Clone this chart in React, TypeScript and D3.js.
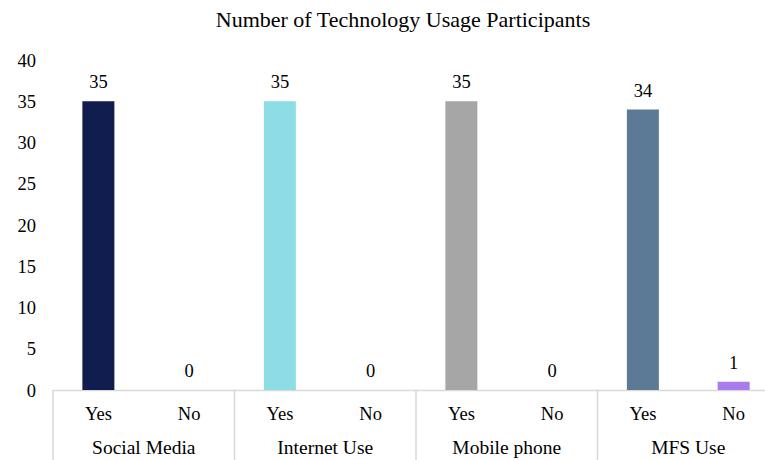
import React from "react";
import * as d3 from "d3";

const groups = ["Social Media", "Internet Use", "Mobile phone", "MFS Use"];
const subs = ["Yes", "No"];
const values = [
  [35, 0],
  [35, 0],
  [35, 0],
  [34, 1],
];
const colors = [
  ["#111d4f", "#111d4f"],
  ["#8ddde7", "#8ddde7"],
  ["#a6a6a6", "#a6a6a6"],
  ["#5c7a95", "#a87ced"],
];
const yTicks = [0, 5, 10, 15, 20, 25, 30, 35, 40];
const title = "Number of Technology Usage Participants";

export default function App() {
  const W = 765, H = 460;
  const x0 = 53, gw = 181.5;
  const x = d3.scaleBand<string>().domain(groups).range([x0, x0 + gw * groups.length]).padding(0);
  const xs = d3.scaleBand<string>().domain(subs).range([0, x.bandwidth()]).padding(0);
  const y = d3.scaleLinear().domain([0, 40]).range([390, 60]);
  const barW = 32;
  const font = "'Liberation Serif', 'Times New Roman', serif";
  const fs = 18.5;
  return (
    <svg width={W} height={H} style={{ position: "absolute", left: 0, top: 0 }} fontFamily={font}>
      <rect width={W} height={H} fill="#fff" />
      <text x={403} y={27} textAnchor="middle" fontSize={22} fill="#000">{title}</text>
      {yTicks.map((t) => (
        <text key={t} x={36} y={y(t) + 6.5} textAnchor="end" fontSize={fs} fill="#000">{t}</text>
      ))}
      <line x1={x0} x2={W} y1={390.5} y2={390.5} stroke="#d9d9d9" strokeWidth={1.5} />
      {groups.map((g) => (
        <line key={g} x1={x(g)!} x2={x(g)!} y1={390} y2={H} stroke="#d9d9d9" strokeWidth={1.5} />
      ))}
      <line x1={x0 + gw * 4} x2={x0 + gw * 4} y1={390} y2={H} stroke="#d9d9d9" strokeWidth={1.5} />
      {groups.map((g, gi) => (
        <g key={g}>
          {subs.map((s, si) => {
            const cx = x(g)! + xs(s)! + xs.bandwidth() / 2;
            const v = values[gi][si];
            return (
              <g key={s}>
                {v > 0 && (
                  <rect x={cx - barW / 2} y={y(v)} width={barW} height={y(0) - y(v)} fill={colors[gi][si]} />
                )}
                <text x={cx} y={y(v) - 13} textAnchor="middle" fontSize={fs} fill="#000">{v}</text>
                <text x={cx} y={420} textAnchor="middle" fontSize={fs} fill="#000">{s}</text>
              </g>
            );
          })}
          <text x={x(g)! + x.bandwidth() / 2} y={454} textAnchor="middle" fontSize={19.5} fill="#000">{g}</text>
        </g>
      ))}
    </svg>
  );
}
